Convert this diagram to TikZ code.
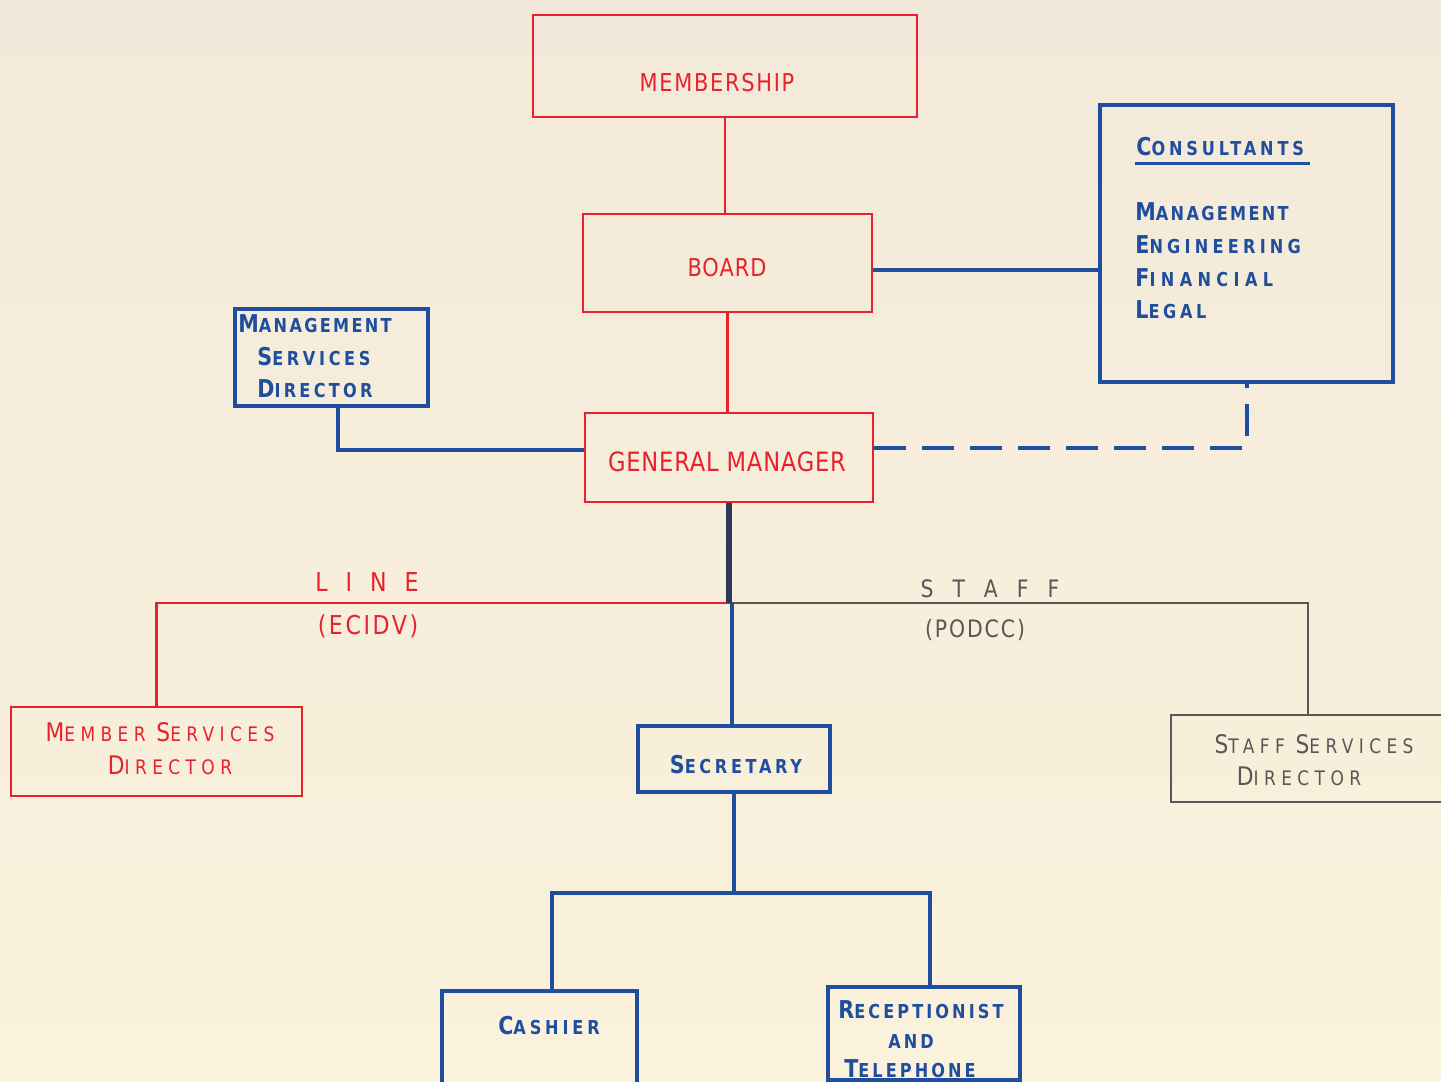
\documentclass[tikz,border=0pt]{standalone}
\usepackage{fontspec}
\usetikzlibrary{fit,calc}
\newfontfamily\lerthin{DejaVu Sans}[FakeStretch=0.85]
\newfontfamily\lerbold{DejaVu Sans}[FakeStretch=0.84]
\newcommand\SC[2]{\scalebox{1.28}{#1}#2}
\definecolor{cred}{RGB}{232,34,44}
\definecolor{cblue}{RGB}{32,78,158}
\definecolor{cgray}{RGB}{88,88,88}
\definecolor{ctrunk}{RGB}{45,55,88}
\definecolor{bgA}{RGB}{243,233,218}
\definecolor{bgB}{RGB}{248,238,212}
\definecolor{bgC}{RGB}{250,242,220}
\tikzset{
  redbox/.style={draw=cred, line width=1.4pt, inner sep=0pt},
  bluebox/.style={draw=cblue, line width=2pt, inner sep=0pt},
  graybox/.style={draw=cgray, line width=1pt, inner sep=0pt},
  redline/.style={draw=cred, line width=1.3pt},
  blueline/.style={draw=cblue, line width=2pt},
  bluedash/.style={draw=cblue, line width=2pt, dash pattern=on 16pt off 8pt},
  grayline/.style={draw=cgray, line width=1pt},
  trunkline/.style={draw=ctrunk, line width=3pt},
  redtxt/.style={text=cred, inner sep=0pt, anchor=base, font=\lerthin\addfontfeature{LetterSpace=7}\fontsize{12.3}{14}\selectfont},
  redsc/.style={text=cred, inner sep=0pt, anchor=base, font=\lerthin\addfontfeature{LetterSpace=27}\fontsize{10}{12}\selectfont},
  graysc/.style={text=cgray, inner sep=0pt, anchor=base, font=\lerthin\addfontfeature{LetterSpace=27}\fontsize{10}{12}\selectfont},
  bluesc/.style={text=cblue, inner sep=0pt, anchor=base west, font=\lerbold\bfseries\addfontfeature{LetterSpace=16}\fontsize{9.6}{12}\selectfont},
  bluewide/.style={bluesc, font=\lerbold\bfseries\addfontfeature{LetterSpace=#1}\fontsize{9.6}{12}\selectfont},
  bluescc/.style={bluesc, anchor=base},
  lbl/.style={inner sep=0pt, anchor=base, font=\lerthin\fontsize{13}{15}\selectfont},
}
\begin{document}
\begin{tikzpicture}[x=0.5pt, y=-0.5pt]
\useasboundingbox (0,0) rectangle (1441,1082);
\fill[top color=bgA, middle color=bgB, bottom color=bgC] (0,0) rectangle (1441,1082);
\begin{scope}
\clip (0,0) rectangle (1441,1082);
% boxes
\node[redbox, fit={(533,15)(917,117)}] (mem) {};
\node[redbox, fit={(583,214)(872,312)}] (board) {};
\node[bluebox, fit={(1100,105)(1393,382)}] (cons) {};
\node[bluebox, fit={(235,309)(428,406)}] (msd) {};
\node[redbox, fit={(585,413)(873,502)}] (gm) {};
\node[redbox, fit={(11,707)(302,796)}] (mbr) {};
\node[bluebox, fit={(638,726)(830,792)}] (sec) {};
\node[graybox, fit={(1171,715)(1470,802)}] (staff) {};
\node[bluebox, fit={(442,991)(637,1095)}] (cash) {};
\node[bluebox, fit={(828,987)(1020,1080)}] (recep) {};
% texts
\node[redtxt] (memt) at (717,91) {MEMBERSHIP};
\node[redtxt, font=\lerthin\addfontfeature{LetterSpace=4}\fontsize{12.3}{14}\selectfont] (boardt) at (727,276) {BOARD};
\node[redtxt, font=\lerthin\addfontfeature{LetterSpace=3}\fontsize{13.3}{15}\selectfont] (gmt) at (727,471) {GENERAL MANAGER};
\node[bluewide=20] (c0) at (1136,155) {\SC{C}{ONSULTANTS}};
\node[bluewide=12] (c1) at (1135,220) {\SC{M}{ANAGEMENT}};
\node[bluewide=22] (c2) at (1135,253) {\SC{E}{NGINEERING}};
\node[bluewide=28] (c3) at (1135,286) {\SC{F}{INANCIAL}};
\node[bluewide=19] (c4) at (1135,318) {\SC{L}{EGAL}};
\node[bluewide=12] (m1) at (238,332) {\SC{M}{ANAGEMENT}};
\node[bluewide=19] (m2) at (257,365) {\SC{S}{ERVICES}};
\node[bluewide=17] (m3) at (257,397) {\SC{D}{IRECTOR}};
\node[redsc] (b1) at (160,741) {\SC{M}{EMBER} \SC{S}{ERVICES}};
\node[redsc] (b2) at (170,774) {\SC{D}{IRECTOR}};
\node[bluescc, bluewide=19, anchor=base] (s1) at (736,773) {\SC{S}{ECRETARY}};
\node[graysc] (f1) at (1314,753) {\SC{S}{TAFF} \SC{S}{ERVICES}};
\node[graysc] (f2) at (1299,785) {\SC{D}{IRECTOR}};
\node[bluescc, bluewide=20, anchor=base] (k1) at (549,1034) {\SC{C}{ASHIER}};
\node[bluescc] (r1) at (921,1018) {\SC{R}{ECEPTIONIST}};
\node[bluescc] (r2) at (911,1048) {AND};
\node[bluescc] (r3) at (910,1077) {\SC{T}{ELEPHONE}};
\node[lbl, text=cred] (l1) at (367,591) {L\hspace{9pt}I\hspace{9pt}N\hspace{9pt}E};
\node[lbl, text=cred, font=\lerthin\addfontfeature{LetterSpace=10}\fontsize{13}{15}\selectfont] (l2) at (368,634) {(ECIDV)};
\node[lbl, text=cgray, font=\lerthin\fontsize{12}{14}\selectfont] (l3) at (990,597) {S\hspace{9.5pt}T\hspace{9.5pt}A\hspace{9.5pt}F\hspace{9.5pt}F};
\node[lbl, text=cgray, font=\lerthin\addfontfeature{LetterSpace=8}\fontsize{12}{14}\selectfont] (l4) at (975,637) {(PODCC)};
\draw[cblue, line width=1.5pt] (1135,163) -- (1310,163);
% connectors
\draw[redline] (mem.south) -- (mem.south |- board.north);
\draw[redline] (board.south) -- (board.south |- gm.north);
\draw[blueline] ([yshift=-3.5pt]board.east) -- ([yshift=-3.5pt]board.east -| cons.west);
\draw[bluedash] ([yshift=5pt]gm.east) -| (cons.south);
\draw[blueline] ([xshift=3pt]msd.south) |- ([yshift=3.75pt]gm.west);
\coordinate (tj) at (729,603);
\draw[redline] (tj) -| (mbr.north);
\draw[grayline] (tj) -| ([xshift=-6.25pt]staff.north);
\draw[blueline] ([xshift=-1pt]sec.north |- tj) -- ([xshift=-1pt]sec.north);
\draw[trunkline] (gm.south) -- (gm.south |- tj);
\coordinate (sj) at (735,893);
\draw[blueline] (sec.south) -- (sec.south |- sj);
\draw[blueline] ([xshift=6.25pt]cash.north) |- (sj) -| ([xshift=3pt]recep.north);
\end{scope}
\end{tikzpicture}
\end{document}
